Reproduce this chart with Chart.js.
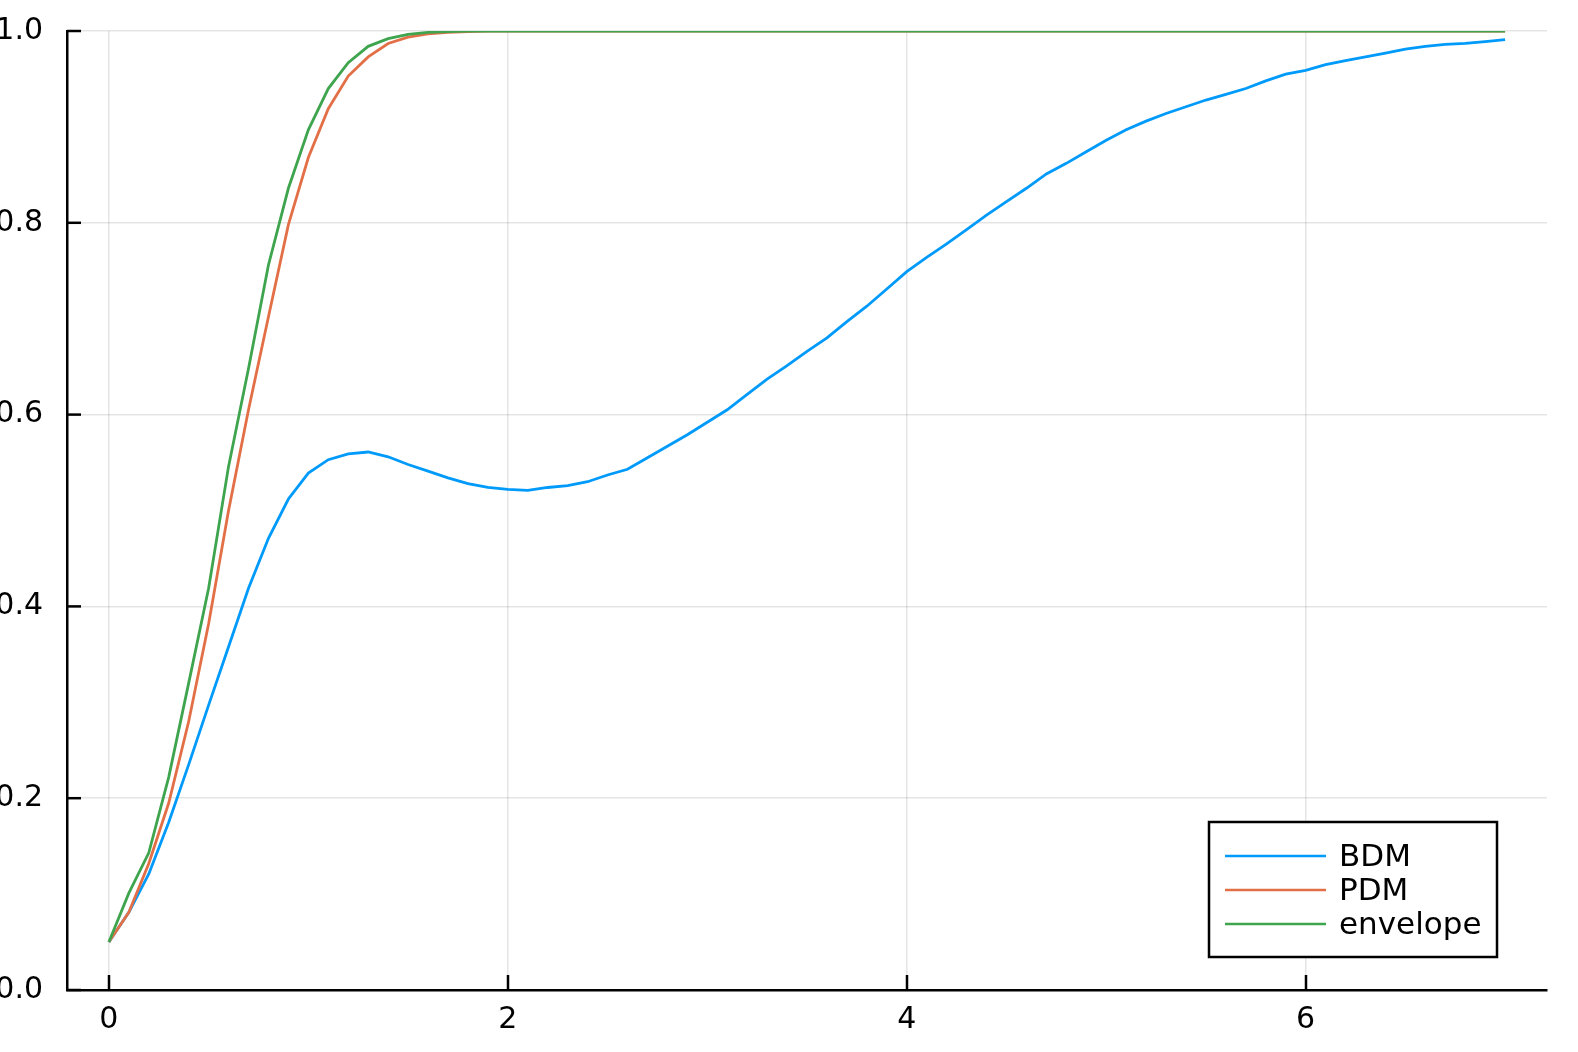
<!DOCTYPE html>
<html>
<head>
<meta charset="utf-8">
<script src="https://cdn.jsdelivr.net/npm/chart.js@4"></script>
<style>
  html, body { margin: 0; padding: 0; background: #fff; }
  #wrap { width: 1578px; height: 1052px; }
</style>
</head>
<body>
<div id="wrap"><canvas id="myChart" width="1578" height="1052"></canvas></div>
<script>
// x values (0 .. 7, step 0.1)
const xs = [0.0,0.1,0.2,0.3,0.4,0.5,0.6,0.7,0.8,0.9,
            1.0,1.1,1.2,1.3,1.4,1.5,1.6,1.7,1.8,1.9,
            2.0,2.1,2.2,2.3,2.4,2.5,2.6,2.7,2.8,2.9,
            3.0,3.1,3.2,3.3,3.4,3.5,3.6,3.7,3.8,3.9,
            4.0,4.1,4.2,4.3,4.4,4.5,4.6,4.7,4.8,4.9,
            5.0,5.1,5.2,5.3,5.4,5.5,5.6,5.7,5.8,5.9,
            6.0,6.1,6.2,6.3,6.4,6.5,6.6,6.7,6.8,6.9,
            7.0];

const bdm = [0.050,0.081,0.121,0.175,0.235,0.297,0.358,0.419,0.471,0.512,
             0.539,0.553,0.559,0.561,0.556,0.548,0.541,0.534,0.528,0.524,
             0.522,0.521,0.524,0.526,0.530,0.537,0.543,0.555,0.567,0.579,
             0.592,0.605,0.621,0.637,0.651,0.666,0.680,0.697,0.713,0.731,
             0.749,0.764,0.778,0.793,0.808,0.822,0.836,0.851,0.862,0.874,
             0.886,0.897,0.906,0.914,0.921,0.928,0.934,0.940,0.948,0.955,
             0.959,0.965,0.969,0.973,0.977,0.981,0.984,0.986,0.987,0.989,
             0.991];

const pdm = [0.050,0.081,0.132,0.195,0.280,0.382,0.500,0.605,0.702,0.798,
             0.868,0.919,0.953,0.973,0.987,0.9935,0.997,0.9985,0.9995,1.0,
             1.0,1.0,1.0,1.0,1.0,1.0,1.0,1.0,1.0,1.0,
             1.0,1.0,1.0,1.0,1.0,1.0,1.0,1.0,1.0,1.0,
             1.0,1.0,1.0,1.0,1.0,1.0,1.0,1.0,1.0,1.0,
             1.0,1.0,1.0,1.0,1.0,1.0,1.0,1.0,1.0,1.0,
             1.0,1.0,1.0,1.0,1.0,1.0,1.0,1.0,1.0,1.0,
             1.0];

const envelope = [0.050,0.101,0.143,0.222,0.320,0.419,0.546,0.648,0.756,0.836,
                  0.897,0.940,0.967,0.984,0.992,0.9965,0.9985,0.9995,1.0,1.0,
                  1.0,1.0,1.0,1.0,1.0,1.0,1.0,1.0,1.0,1.0,
                  1.0,1.0,1.0,1.0,1.0,1.0,1.0,1.0,1.0,1.0,
                  1.0,1.0,1.0,1.0,1.0,1.0,1.0,1.0,1.0,1.0,
                  1.0,1.0,1.0,1.0,1.0,1.0,1.0,1.0,1.0,1.0,
                  1.0,1.0,1.0,1.0,1.0,1.0,1.0,1.0,1.0,1.0,
                  1.0];

const seriesNames = ['BDM', 'PDM', 'envelope'];
const xTicks = [0, 2, 4, 6];
const yTicks = [0.0, 0.2, 0.4, 0.6, 0.8, 1.0];

const FONT = "'DejaVu Sans', sans-serif";
const toPts = (ys) => xs.map((x, i) => ({ x: x, y: ys[i] }));

// tick marks drawn inside the plot area, plus the boxed legend
const insideTicks = {
  id: 'insideTicks',
  afterDraw(chart) {
    const c = chart.ctx;
    const area = chart.chartArea;
    const sx = chart.scales.x, sy = chart.scales.y;
    c.save();
    c.strokeStyle = '#000';
    c.lineWidth = 2.5;
    xTicks.forEach(v => {
      const px = Math.round(sx.getPixelForValue(v));
      c.beginPath(); c.moveTo(px, area.bottom); c.lineTo(px, area.bottom - 15); c.stroke();
    });
    yTicks.forEach(v => {
      const py = sy.getPixelForValue(v);
      c.beginPath(); c.moveTo(area.left, py); c.lineTo(area.left + 14, py); c.stroke();
    });

    // legend
    const right = area.right - 50, bottom = area.bottom - 33;
    const w = 288, h = 135;
    const left = right - w, top = bottom - h;
    c.fillStyle = '#fff';
    c.fillRect(left, top, w, h);
    c.lineWidth = 2.5;
    c.strokeRect(left, top, w, h);
    c.font = '31px ' + FONT;
    c.textBaseline = 'middle';
    c.textAlign = 'left';
    chart.data.datasets.forEach((ds, i) => {
      const y = top + 34 + i * 34;
      c.strokeStyle = ds.borderColor;
      c.lineWidth = 2.7;
      c.beginPath(); c.moveTo(left + 16, y); c.lineTo(left + 117, y); c.stroke();
      c.fillStyle = '#000';
      c.fillText(ds.label, left + 130, y + 2);
    });
    c.restore();
  }
};

const ctx = document.getElementById('myChart');
const chart = new Chart(ctx, {
  type: 'line',
  data: {
    datasets: [
      { label: seriesNames[0], data: toPts(bdm), borderColor: '#009AFA', order: 3 },
      { label: seriesNames[1], data: toPts(pdm), borderColor: '#E36F47', order: 2 },
      { label: seriesNames[2], data: toPts(envelope), borderColor: '#3EA44E', order: 1 }
    ]
  },
  options: {
    responsive: false,
    animation: false,
    elements: {
      line: { borderWidth: 2.8, tension: 0, fill: false },
      point: { radius: 0 }
    },
    layout: { padding: { top: 31, right: 31, left: 0, bottom: 0 } },
    plugins: { legend: { display: false }, tooltip: { enabled: false } },
    scales: {
      x: {
        type: 'linear',
        min: -0.21, max: 7.21,
        afterBuildTicks: (s) => { s.ticks = xTicks.map(v => ({ value: v })); },
        afterFit: (s) => { s.height = 62; },
        grid: { color: 'rgba(0,0,0,0.1)', lineWidth: 1.5, drawTicks: false },
        border: { color: '#000', width: 2.5 },
        ticks: { color: '#000', font: { family: FONT, size: 30 }, padding: 12, maxRotation: 0,
                 callback: (v) => String(v) }
      },
      y: {
        type: 'linear',
        min: 0, max: 1,
        afterBuildTicks: (s) => { s.ticks = yTicks.map(v => ({ value: v })); },
        afterFit: (s) => { s.width = 67; s.paddingTop = 0; s.paddingBottom = 0; },
        grid: { color: 'rgba(0,0,0,0.1)', lineWidth: 1.5, drawTicks: false },
        border: { color: '#000', width: 2.5 },
        ticks: { color: '#000', font: { family: FONT, size: 30, lineHeight: 0.4 }, padding: 24,
                 callback: (v) => Number(v).toFixed(1) }
      }
    }
  },
  plugins: [insideTicks]
});
</script>
</body>
</html>
